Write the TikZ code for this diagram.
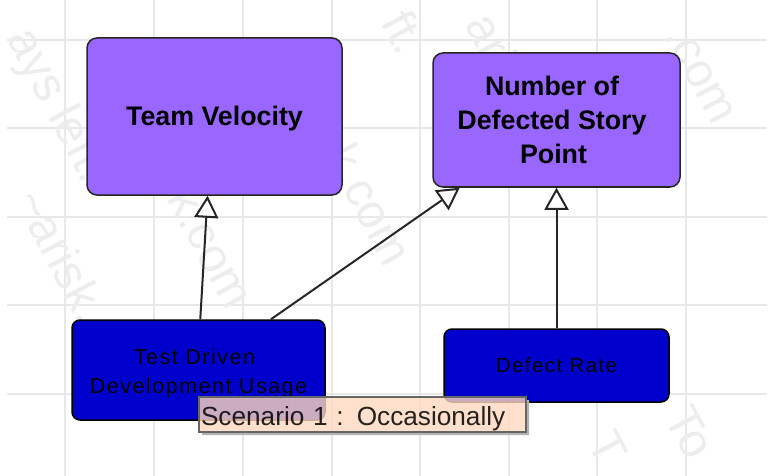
\documentclass[tikz,border=0pt]{standalone}
\usepackage{fontspec}
\setmainfont{Liberation Sans}
\usetikzlibrary{arrows.meta}

\tikzset{
  gridline/.style={draw=black!9, line width=1.6pt},
  watermark/.style={text=black!7, font=\fontsize{48}{48}\selectfont, rotate=-62, inner sep=0pt},
  goalbox/.style={draw=black!85, line width=1.5pt, fill=goalfill, rounded corners=10pt, align=center,
    inner sep=0pt, font=\fontsize{26.8}{34}\selectfont\bfseries},
  factorbox/.style={draw=black, line width=1.5pt, fill=factorfill, rounded corners=8pt, align=center,
    inner sep=0pt, font=\fontsize{21.5}{29}\selectfont\addfontfeatures{LetterSpace=7}},
  implies/.style={draw=black!85, line width=2pt, -{Triangle[open, fill=white, length=22pt, width=24pt]}},
  scenarionote/.style={draw=black!60, line width=1.2pt, fill=notefill, fill opacity=0.8, text opacity=0.85,
    inner sep=0pt, align=left, text width=323pt, font=\fontsize{26.2}{30}\selectfont}
}
\definecolor{goalfill}{HTML}{9966FF}
\definecolor{factorfill}{HTML}{0000CC}
\definecolor{notefill}{HTML}{FFD8BF}

\begin{document}
\begin{tikzpicture}[x=1pt, y=-1pt]
  \useasboundingbox (0,0) rectangle (774,476);
  % Background grid
  \foreach \gx in {65,154,243,332,420,509,597,686}
    \draw[gridline] (\gx,0) -- (\gx,476);
  \foreach \gy in {40,128,217,305,394}
    \draw[gridline] (7,\gy) -- (767,\gy);
  % Watermark
  \node[watermark] (markone) at (56,106) {ays left.};
  \node[watermark] (marktwo) at (62,255) {\textasciitilde arisk.};
  \node[watermark] (markthree) at (352,170) {erisk.com};
  \node[watermark] (markfour) at (200,225) {risk.com};
  \node[watermark] (markfive) at (700,75) {.com};
  \node[watermark] (marksix) at (690,432) {To};
  \node[watermark] (markseven) at (608,448) {T};
  \node[watermark] (markeight) at (405,32) {ft.};
  \node[watermark] (marknine) at (492,40) {ari};
  % Goals
  \node[goalbox, minimum width=255pt, minimum height=157pt] (velocity) at (214.5,116.5) {\rule{0pt}{24pt}Team Velocity};
  \node[goalbox, minimum width=247pt, minimum height=134pt] (defected) at (556.5,120)
    {\hspace*{-9pt}Number of\\\hspace*{-9pt}Defected Story\\\hspace*{-6pt}Point};
  % Factors
  \node[factorbox, minimum width=253pt, minimum height=100pt] (usage) at (198.5,370)
    {\rule{0pt}{22pt}\hspace*{-8pt}Test Driven\\Development Usage};
  \node[factorbox, font=\fontsize{20.5}{29}\selectfont\addfontfeatures{LetterSpace=7},
    minimum width=225pt, minimum height=73pt] (defect) at (556.5,365.5) {Defect Rate};
  % Links
  \draw[implies] (usage.88.3) -- (velocity.265.3);
  \draw[implies] (usage.35.2) -- (defected.215);
  \draw[implies] (defect.north) -- (defected.south);
  % Scenario note
  \fill[black!30] (526,400) -- (529,400) -- (529,435) -- (202,435) -- (202,432) -- (526,432) -- cycle;
  \node[scenarionote, minimum width=327pt, minimum height=35pt] (scenario) at (362.5,414.5)
    {\rule{0pt}{27pt}Scenario 1 : Occasionally};
\end{tikzpicture}
\end{document}
